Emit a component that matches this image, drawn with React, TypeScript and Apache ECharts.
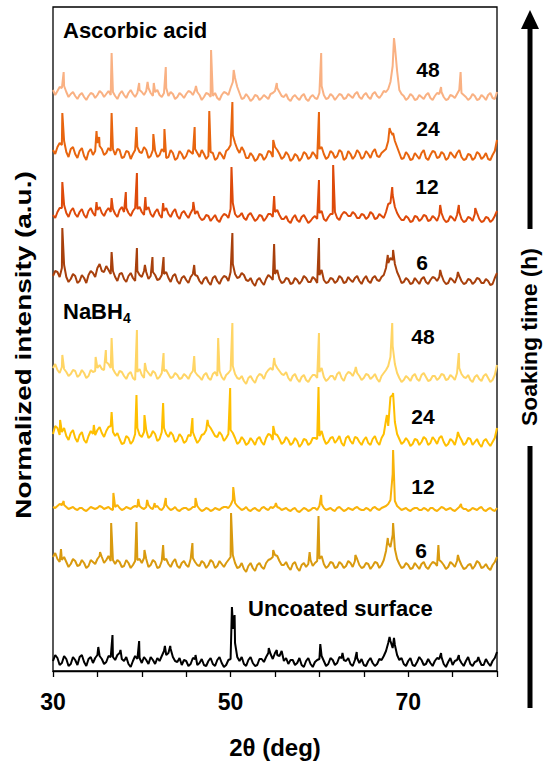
import React, { useEffect, useRef } from "react";
import * as echarts from "echarts";

// 2θ sampling positions of the baseline readings (deg)
const X_GRID = [
  30, 30.5, 31, 31.5, 32, 32.5, 33, 33.5, 34, 34.5,
  35, 35.5, 36, 36.5, 37, 37.5, 38, 38.5, 39, 39.5,
  40, 40.5, 41, 41.5, 42, 42.5, 43, 43.5, 44, 44.5,
  45, 45.5, 46, 46.5, 47, 47.5, 48, 48.5, 49, 49.5,
  50, 50.5, 51, 51.5, 52, 52.5, 53, 53.5, 54, 54.5,
  55, 55.5, 56, 56.5, 57, 57.5, 58, 58.5, 59, 59.5,
  60, 60.5, 61, 61.5, 62, 62.5, 63, 63.5, 64, 64.5,
  65, 65.5, 66, 66.5, 67, 67.5, 68, 68.5, 69, 69.5,
  70, 70.5, 71, 71.5, 72, 72.5, 73, 73.5, 74, 74.5,
  75, 75.5, 76, 76.5, 77, 77.5, 78, 78.5, 79, 79.5,
  80,
];
// in-between sampling positions (deg)
const X_MID = [
  30.25, 30.75, 31.25, 31.75, 32.25, 32.75, 33.25, 33.75, 34.25, 34.75,
  35.25, 35.75, 36.25, 36.75, 37.25, 37.75, 38.25, 38.75, 39.25, 39.75,
  40.25, 40.75, 41.25, 41.75, 42.25, 42.75, 43.25, 43.75, 44.25, 44.75,
  45.25, 45.75, 46.25, 46.75, 47.25, 47.75, 48.25, 48.75, 49.25, 49.75,
  50.25, 50.75, 51.25, 51.75, 52.25, 52.75, 53.25, 53.75, 54.25, 54.75,
  55.25, 55.75, 56.25, 56.75, 57.25, 57.75, 58.25, 58.75, 59.25, 59.75,
  60.25, 60.75, 61.25, 61.75, 62.25, 62.75, 63.25, 63.75, 64.25, 64.75,
  65.25, 65.75, 66.25, 66.75, 67.25, 67.75, 68.25, 68.75, 69.25, 69.75,
  70.25, 70.75, 71.25, 71.75, 72.25, 72.75, 73.25, 73.75, 74.25, 74.75,
  75.25, 75.75, 76.25, 76.75, 77.25, 77.75, 78.25, 78.75, 79.25, 79.75,
];

const X_TICK_LABELS = [30, 50, 70];

// Ascorbic acid 48 h
const AA48_BASE = [
  6, 5, 8, 4, 2, 0, 1, -1, 0, 2,
  1, 3, 2, 1, 0, 2, 1, 3, 2, 3,
  4, 5, 3, 4, 1, 3, 0, 2, -1, 1,
  2, 4, 6, 1, -1, 2, 0, -2, 1, 3,
  8, 18, 3, -2, -1, -3, 0, -2, -1, 2,
  5, 4, -1, -3, -1, -2, 0, -3, -1, -2,
  3, 1, -2, 0, -1, 1, -2, 0, 2, -1,
  1, -1, 2, 0, 1, 4, 14, 50, 6, 0,
  -2, 0, -3, -1, 1, -2, 0, 2, -1, -3,
  0, 2, 3, -1, -2, 0, -3, -1, 1, -2,
  4,
];
const AA48_MID = [
  1, 9, 10, -1, 4, -3, 3, -4, 3, -2,
  5, -1, 5, 4, -3, 5, -2, 6, -1, 6,
  1, 8, 0, 6, -1, 8, 4, -3, 3, -2,
  5, 1, 4, -4, 3, -1, 3, -4, 4, 1,
  14, 9, -3, 2, -5, 1, -4, 1, -3, 3,
  8, 0, 2, -5, 1, -4, 2, -5, 1, -3,
  10, -3, 2, -4, 2, -3, 2, -2, 4, -3,
  3, -3, 4, -2, 5, 7, 30, 25, 2, -4,
  2, -4, 1, -3, 3, -4, 3, 4, -4, 1,
  -2, 6, 1, -4, 2, -4, 1, -4, 3, -3,
];
const AA48_PEAKS = [
  [31.2, 24], [36.6, 43], [39.7, 13], [40.65, 14], [41.35, 13], [42.7, 29],
  [46.1, 10], [47.8, 46], [50.35, 26], [55.2, 13], [60.2, 43], [68.4, 58],
  [73.7, 9], [75.9, 24],
];

// Ascorbic acid 24 h
const AA24_BASE = [
  5, 8, 10, 3, 6, 1, 4, -1, 3, 0,
  12, 6, 2, 4, 0, 5, -2, 3, 1, 8,
  2, 5, -1, 4, 0, 3, -2, 2, -3, 1,
  -1, 3, 6, -2, 1, -1, 2, -3, 0, 4,
  10, 12, 2, 4, -3, -1, -4, 0, -2, 3,
  8, 1, -2, 0, -4, -1, -3, 1, -2, 0,
  6, 1, -2, 2, -1, 3, -3, 1, -1, 2,
  -2, 1, 3, -1, 2, 6, 24, 14, 2, -3,
  0, -4, -1, 2, -3, 0, 3, -2, 1, -3,
  0, 2, -2, -4, 0, -3, 1, -2, -4, 0,
  15,
];
const AA24_MID = [
  1, 12, 14, -2, 8, -3, 7, -5, 6, 4,
  9, 0, 7, 6, 6, -3, 4, -4, 5, 3,
  8, -3, 5, -2, 6, -3, 5, -5, 4, -4,
  5, 1, 2, 5, -4, 3, -5, 3, -4, 6,
  20, 6, 8, -3, 2, -6, 1, -5, 4, -2,
  5, -4, 3, -6, 1, -6, 3, -4, 3, -4,
  8, -4, 4, -3, 5, -5, 4, -4, 5, -4,
  4, -3, 6, -2, 4, 14, 20, 8, -4, 3,
  -5, 2, -4, 5, -5, 4, -3, 3, -5, 3,
  -3, 5, -5, 1, -5, 3, -4, 2, -5, 4,
];
const AA24_PEAKS = [
  [31.05, 42], [34.9, 24], [35.2, 18], [36.6, 42], [39.4, 28], [41.3, 21],
  [42.55, 26], [45.95, 28], [47.6, 44], [50.2, 53], [54.8, 15], [59.95, 43],
  [67.9, 27], [68.3, 22],
];

// Ascorbic acid 12 h
const AA12_BASE = [
  2, 5, 9, 4, 6, 3, 5, 2, 6, 4,
  7, 4, 6, 5, 3, 7, 5, 4, 6, 8,
  5, 7, 3, 5, 2, 6, 3, 5, 1, 4,
  2, 4, 3, 0, -2, 1, -1, -3, 0, 2,
  8, 3, 1, -1, 2, 0, -2, 1, -1, 3,
  5, 2, -2, -4, -1, -3, 0, -2, -4, 1,
  4, -2, 0, 3, -1, 2, 4, 1, 3, -1,
  2, 0, 3, -1, 1, 5, 14, 10, 0, -3,
  -1, -4, 0, -2, 1, -3, -1, 2, -2, -4,
  -1, 2, -2, -4, -1, 3, -2, -4, -1, -3,
  6,
];
const AA12_MID = [
  -1, 9, 12, 0, 9, 0, 8, -1, 9, 1,
  10, 1, 9, 8, 0, 10, 9, 1, 9, 10,
  2, 10, 0, 8, -1, 9, 0, 8, -2, 6,
  -1, 8, 6, -3, 2, -4, 2, -5, 3, -1,
  14, 0, 4, -3, 4, -4, 2, -4, 3, 0,
  7, -2, 1, -6, 2, -5, 2, -6, -1, -2,
  6, -4, 3, 5, -3, 5, 1, 5, -1, 3,
  -2, 5, -2, 3, -1, 13, 22, 4, -3, 1,
  -5, 1, -4, 2, -4, 1, -4, 4, -5, 1,
  -4, 5, -5, 0, -4, 4, -5, 0, -5, 1,
];
const AA12_PEAKS = [
  [31.05, 35], [34.9, 15], [36.6, 19], [38.2, 25], [39.45, 44], [40.4, 20],
  [42.4, 14], [45.8, 15], [50.1, 50], [54.9, 21], [59.95, 37], [61.55, 52],
  [68.2, 30], [73.6, 12], [75.7, 12], [77.55, 9],
];

// Ascorbic acid 6 h
const AA6_BASE = [
  4, 8, 12, 3, 1, 4, -1, 2, 5, 7,
  12, 9, 14, 6, 3, 6, 1, 4, 2, 9,
  3, 8, 4, 5, 1, 6, 2, 4, -1, 2,
  0, 3, 5, -1, 1, -2, 2, -1, 1, 3,
  8, 6, 3, 5, -1, -3, 0, -2, 1, 3,
  6, 1, -2, 1, -3, 0, -1, 2, -2, 1,
  5, 0, -2, 1, -1, 2, -2, 0, 2, -1,
  1, -1, 2, 0, 3, 12, 22, 16, 3, -2,
  0, -3, -1, 1, -2, 0, 2, 3, -1, -3,
  0, 3, -1, -3, 0, -2, 1, -3, -1, -4,
  7,
];
const AA6_MID = [
  9, 3, 15, -2, 6, -3, 5, -3, 9, 3,
  16, 8, 10, 9, -1, 7, -2, 7, -1, 5,
  9, 1, 8, 0, 5, 8, -2, 6, -4, 4,
  -3, 6, 4, -4, 3, -5, 4, -4, 4, -1,
  16, 2, 7, 0, 2, -6, 2, -5, 5, 0,
  10, -3, 2, -4, 2, -4, 4, -2, 3, -3,
  10, -3, 2, -3, 4, -3, 3, -2, 4, -4,
  4, -3, 4, -1, 5, 17, 20, 8, -3, 2,
  -4, 2, -4, 3, -4, 3, -1, 5, -4, 2,
  -3, 4, -4, 1, -4, 2, -3, 1, -5, 2,
];
const AA6_PEAKS = [
  [31.05, 52], [36.6, 28], [39.45, 32], [40.35, 15], [41.2, 23], [42.45, 23],
  [45.9, 15], [50.2, 47], [54.9, 36], [59.95, 42], [67.7, 25], [68.3, 30],
  [73.6, 10], [75.6, 8],
];

// NaBH4 48 h
const NA48_BASE = [
  8, 6, 9, 4, 2, 5, 1, 3, 0, 4,
  8, 7, 14, 8, 3, 5, 0, 2, -2, 4,
  1, 6, 0, 3, -1, 5, 2, -1, 1, -2,
  0, 2, 4, -1, 1, -2, 2, 0, -1, 1,
  6, 2, -3, -5, -2, -4, -1, 1, 3, 8,
  12, 5, 1, -2, 0, -3, -1, -4, -2, 1,
  4, -1, -3, 0, 2, -2, 1, 3, 5, 0,
  -2, 1, -1, -3, 0, 6, 19, 12, -2, -4,
  -2, 0, -3, 1, -1, -4, 0, -2, 1, -3,
  -1, 3, 2, -2, -4, -1, -3, 0, -2, -4,
  11,
];
const NA48_MID = [
  12, 3, 7, 0, 6, -1, 6, -2, 6, 5,
  11, 6, 12, 7, 0, 4, -3, 4, -4, 7,
  -2, 3, 5, -3, 3, 6, -2, 3, -3, 2,
  -3, 5, 1, -4, 3, -4, 4, 5, -4, 3,
  10, -2, 0, -8, 0, -7, 2, -3, 6, 6,
  8, 2, 4, -5, 2, -6, 1, -6, 1, -2,
  8, -5, 0, -4, 4, -5, 4, 0, 3, -4,
  2, -3, 2, -6, 3, 10, 30, 3, -6, 0,
  -5, 2, -5, 3, -5, 0, -4, 2, -4, 1,
  -4, 8, -1, 1, -6, 1, -5, 2, -6, 1,
];
const NA48_PEAKS = [
  [31.05, 21], [34.8, 19], [35.95, 26], [36.6, 38], [39.45, 46], [40.35, 13],
  [42.45, 23], [45.9, 20], [48.6, 38], [50.2, 53], [54.9, 18], [59.95, 43],
  [64.1, 9], [68.2, 53], [75.7, 23],
];

// NaBH4 24 h
const NA24_BASE = [
  6, 12, 8, 4, 7, 2, 5, 0, 4, 6,
  10, 7, 9, 14, 4, 1, -3, 2, -1, 12,
  3, 10, 4, 6, 1, 12, 3, 5, 0, 3,
  -1, 4, 2, 0, 6, 15, 8, 3, 5, 2,
  10, 2, -2, 0, -3, -1, 1, -2, 2, 5,
  6, 1, -2, 0, -3, -1, -4, 0, -3, 2,
  4, 1, -2, 3, 0, -3, 2, -1, 3, -2,
  0, -3, 1, -2, 2, 20, 43, 18, 1, -2,
  -1, -4, 0, -2, 1, -3, 0, 2, -2, -4,
  -1, 3, 0, -3, 1, -2, -4, -1, -3, -2,
  12,
];
const NA24_MID = [
  14, 5, 12, 0, 10, -2, 8, -3, 9, 5,
  13, 3, 13, 8, 7, -4, 4, -4, 6, 5,
  8, 2, 9, -1, 8, 6, 8, -2, 6, -3,
  5, 8, -3, 5, 10, 12, 4, 8, -1, 6,
  7, -4, 3, -5, 2, -5, 3, -5, 6, 0,
  5, -4, 3, -5, 2, -7, 1, -5, 2, 1,
  9, -4, 2, -3, 4, -6, 4, -4, 2, -5,
  3, -5, 4, -5, 6, 14, 45, 6, -4, 2,
  -6, 1, -5, 3, -5, 3, -4, 4, -6, 1,
  -5, 4, -5, 2, -5, 1, -7, 1, -6, 2,
];
const NA24_PEAKS = [
  [30.8, 20], [34.6, 15], [36.6, 28], [39.4, 45], [40.3, 25], [42.4, 37],
  [45.7, 22], [47.4, 20], [49.95, 52], [54.8, 14], [59.9, 53], [67.6, 25],
  [68.3, 47], [75.6, 8],
];

// NaBH4 12 h
const NA12_BASE = [
  2, 3, 4, 2, 1, 0, 1, -1, 0, 1,
  1, 2, 1, 0, 2, 1, 0, 1, 2, 2,
  1, 2, 1, 2, 0, 2, 1, 0, -1, 0,
  1, 0, 2, 0, -1, 0, -1, 0, 1, 2,
  4, 6, 1, 0, -1, 0, -1, 1, 0, 2,
  3, 1, 0, -1, 0, -2, -1, 0, -1, 1,
  3, 1, 0, -1, 1, 0, -1, 0, 1, 0,
  -1, 0, 1, 0, 1, 3, 9, 8, 1, 0,
  -1, 0, 1, -1, 0, 1, -1, 0, 1, 0,
  -1, 0, 2, 0, -1, 0, 1, -1, 0, -1,
  1,
];
const NA12_MID = [
  1, 5, 4, 0, 2, -1, 1, -2, 2, 0,
  3, 0, 2, -1, 4, -1, 2, 0, 3, 3,
  0, 4, 0, 3, -1, 4, -1, 2, -2, 1,
  -1, 2, 3, -2, 1, -2, 1, -1, 2, 1,
  9, 3, -1, 2, -2, 1, -2, 2, -1, 1,
  2, -1, 1, -2, 1, -3, 1, -2, 1, -1,
  5, -1, 1, -2, 2, -2, 1, -1, 2, -1,
  1, -2, 2, -1, 2, 5, 35, 3, -1, 1,
  -2, 1, -1, 1, -2, 1, -2, 2, -1, 1,
  -2, 2, 0, -2, 1, -1, 2, -2, 1, -2,
];
const NA12_PEAKS = [
  [31.2, 8], [36.8, 16], [39.6, 10], [40.6, 9], [41.45, 6], [42.7, 11],
  [46.05, 11], [50.3, 22], [55.1, 6], [60.2, 14], [68.3, 59], [75.95, 5],
];

// NaBH4 6 h
const NA6_BASE = [
  8, 6, 5, 3, 1, 4, 0, 2, -1, 3,
  6, 8, 5, 4, 1, 3, -1, 2, 0, 5,
  2, 6, 0, 3, -2, 5, 1, 3, -1, 2,
  0, 6, 3, -1, 2, 0, 3, -1, 1, 2,
  8, 2, -2, -4, -1, -3, 0, -2, 2, 6,
  10, 4, 0, -2, 1, -3, 0, -2, 5, 2,
  6, 1, -1, 2, -2, 1, -1, 2, 4, 0,
  -2, 1, -1, 2, 0, 14, 18, 16, 1, -2,
  0, -3, -1, 1, -2, 0, 2, 5, 0, -2,
  1, 4, 0, -3, 1, -1, 2, -2, -3, 0,
  8,
];
const NA6_MID = [
  12, 3, 8, -2, 6, -1, 5, -3, 5, 1,
  9, 2, 9, 5, 5, -2, 5, -3, 4, 6,
  7, -2, 5, -3, 4, 6, -2, 6, -3, 4,
  -2, 7, 0, 4, -3, 5, -3, 4, -2, 5,
  10, -3, 2, -7, 2, -6, 2, -4, 5, 8,
  9, 0, 3, -5, 3, -6, 2, 1, -1, 4,
  9, -3, 3, -3, 3, -3, 4, -2, 6, -3,
  2, -4, 3, -3, 5, 22, 30, 6, -3, 2,
  -4, 2, -4, 3, -4, 3, -1, 3, -4, 3,
  -2, 5, -4, 0, -4, 4, -3, 1, -5, 3,
];
const NA6_PEAKS = [
  [30.9, 16], [35.3, 13], [36.55, 42], [39.4, 43], [40.3, 15], [42.4, 20],
  [45.7, 22], [50.05, 52], [54.8, 15], [58.9, 13], [59.9, 49], [64.05, 10],
  [67.7, 27], [68.3, 42], [73.4, 20], [75.6, 10],
];

// Uncoated surface
const UNC_BASE = [
  2, 5, 0, 4, -1, 3, 6, 1, 4, 0,
  8, 4, 1, 6, 3, 10, 2, -1, 2, 4,
  0, 3, 6, -1, 2, 12, 10, 6, 1, -2,
  2, -1, 4, 0, -2, 2, -1, 3, 0, -2,
  4, 20, 2, -1, 3, 0, -2, 4, 6, 9,
  10, 7, 2, -1, 3, 0, -2, 2, -1, 1,
  4, 2, -1, 3, 0, 5, 2, -1, 3, 0,
  -2, 2, 0, -1, 3, 12, 22, 18, 3, -1,
  2, -2, 1, 3, -1, 0, 2, 4, -1, 1,
  -2, 3, 0, 2, -1, 1, 3, -2, 0, 2,
  11,
];
const UNC_MID = [
  8, -2, 7, -3, 6, -2, 8, -3, 6, 5,
  7, -1, 7, 6, 8, 4, 6, -4, 7, 5,
  6, -1, 3, 5, 7, 8, 14, 2, 5, 3,
  -3, 5, -2, 4, -3, 5, -3, 6, -4, 3,
  40, 6, 6, -3, 6, -3, 4, 1, 10, 4,
  8, 12, 5, 3, -2, 5, -4, 5, -4, 3,
  7, -3, 5, -2, 6, 3, 5, -3, 5, 4,
  -3, 5, -3, 4, 7, 20, 15, 8, 5, -3,
  5, -3, 6, -2, 4, -3, 5, 6, -4, 5,
  2, 4, -3, 6, -3, 2, -2, 4, -3, 5,
];
const UNC_PEAKS = [
  [35.1, 16], [36.7, 28], [37.6, 13], [39.7, 22], [42.6, 17], [43.2, 17],
  [46.05, 8], [50.15, 56], [50.3, 34], [50.45, 48], [54.3, 15], [55.2, 13],
  [60.1, 19], [62.6, 10], [64.2, 11], [67.9, 26], [68.4, 25], [73.7, 10],
  [75.7, 8], [77.9, 6],
];

// vertical stacking offsets of each pattern (a.u.)
const OFFSETS = [575, 516, 454, 391, 295, 231, 162, 106, 8];
const SERIES_NAMES = [
  "Ascorbic acid 48", "Ascorbic acid 24", "Ascorbic acid 12", "Ascorbic acid 6",
  "NaBH4 48", "NaBH4 24", "NaBH4 12", "NaBH4 6", "Uncoated surface",
];
const BASES = [AA48_BASE, AA24_BASE, AA12_BASE, AA6_BASE, NA48_BASE, NA24_BASE, NA12_BASE, NA6_BASE, UNC_BASE];
const MIDS = [AA48_MID, AA24_MID, AA12_MID, AA6_MID, NA48_MID, NA24_MID, NA12_MID, NA6_MID, UNC_MID];
const PEAKS = [AA48_PEAKS, AA24_PEAKS, AA12_PEAKS, AA6_PEAKS, NA48_PEAKS, NA24_PEAKS, NA12_PEAKS, NA6_PEAKS, UNC_PEAKS];
const COLORS = ["#F9B183", "#E8650F", "#DE4A0A", "#A8400C", "#FFD565", "#FFBF00", "#F9B30A", "#D99A0F", "#000000"];

const FONT = '"Liberation Sans", Arial, Helvetica, sans-serif';

function buildPoints(base: number[], mid: number[], peaks: number[][], offset: number) {
  const pts = X_GRID.map((x, i) => [x, base[i] + offset]);
  X_MID.forEach((x, i) => pts.push([x, mid[i] + offset]));
  peaks.forEach(([x, h]) => pts.push([x, h + offset]));
  pts.sort((a, b) => a[0] - b[0]);
  return pts;
}

function label(text: string, x: number, y: number, size: number, align = "center") {
  return {
    type: "text",
    x,
    y,
    silent: true,
    style: {
      text,
      fill: "#000",
      font: `bold ${size}px ${FONT}`,
      align,
      textAlign: align,
      verticalAlign: "middle",
      textVerticalAlign: "middle",
    },
  };
}

function rotText(text: string, x: number, y: number, size: number, sx: number) {
  return {
    type: "text",
    x,
    y,
    rotation: Math.PI / 2,
    scaleX: sx,
    silent: true,
    style: {
      text,
      fill: "#000",
      font: `bold ${size}px ${FONT}`,
      align: "center",
      textAlign: "center",
      verticalAlign: "middle",
      textVerticalAlign: "middle",
    },
  };
}

export default function App() {
  const ref = useRef<HTMLDivElement>(null);
  useEffect(() => {
    if (!ref.current) return;
    const chart = echarts.init(ref.current, undefined, { renderer: "svg" });
    const series = SERIES_NAMES.map((name, k) => ({
      name,
      type: "line",
      data: buildPoints(BASES[k], MIDS[k], PEAKS[k], OFFSETS[k]),
      showSymbol: false,
      symbol: "none",
      lineStyle: { color: COLORS[k], width: 2 },
      itemStyle: { color: COLORS[k] },
      z: 2 + k,
    }));
    chart.setOption({
      animation: false,
      grid: {
        left: 53,
        right: 53,
        top: 7,
        bottom: 103,
        show: true,
        borderColor: "#000",
        borderWidth: 1.3,
        backgroundColor: "transparent",
      },
      xAxis: {
        type: "value",
        min: 30,
        max: 80,
        interval: 5,
        name: "2θ (deg)",
        nameLocation: "middle",
        nameGap: 64,
        nameTextStyle: { fontSize: 24, fontWeight: "bold", color: "#000", fontFamily: FONT },
        axisLine: { show: true, lineStyle: { color: "#000", width: 1.3 } },
        axisTick: { show: true, inside: false, length: 6, lineStyle: { color: "#000", width: 1.3 } },
        axisLabel: {
          margin: 19,
          fontSize: 23,
          fontWeight: "bold",
          color: "#000",
          fontFamily: FONT,
          formatter: (v: number) => (X_TICK_LABELS.includes(v) ? String(v) : ""),
        },
        splitLine: { show: false },
      },
      yAxis: {
        type: "value",
        min: 0,
        max: 664,
        show: false,
        splitLine: { show: false },
      },
      series,
      graphic: [
        label("Ascorbic acid", 63, 30, 22, "left"),
        label("48", 428, 69, 21),
        label("24", 428, 128, 21),
        label("12", 427, 186, 21),
        label("6", 422, 262, 21),
        label("NaBH", 63, 311, 22, "left"),
        label("4", 123, 318, 14, "left"),
        label("48", 423, 336, 21),
        label("24", 423, 416, 21),
        label("12", 423, 486, 21),
        label("6", 421, 550, 21),
        label("Uncoated surface", 248, 608, 22, "left"),
        rotText("Normalized intensity (a.u.)", 23, 345, 22, 1.27),
        rotText("Soaking time (h)", 530, 337, 22, 1.04),
        { type: "line", silent: true, shape: { x1: 530, y1: 708, x2: 530, y2: 446 }, style: { stroke: "#000", lineWidth: 5 } },
        { type: "line", silent: true, shape: { x1: 530, y1: 229, x2: 530, y2: 27 }, style: { stroke: "#000", lineWidth: 5 } },
        { type: "polygon", silent: true, shape: { points: [[521, 29], [539, 29], [530, 10]] }, style: { fill: "#000" } },
      ],
    });
    return () => chart.dispose();
  }, []);
  return (
    <div
      ref={ref}
      style={{ position: "absolute", left: 0, top: 0, width: 550, height: 774, background: "#fff" }}
    />
  );
}
